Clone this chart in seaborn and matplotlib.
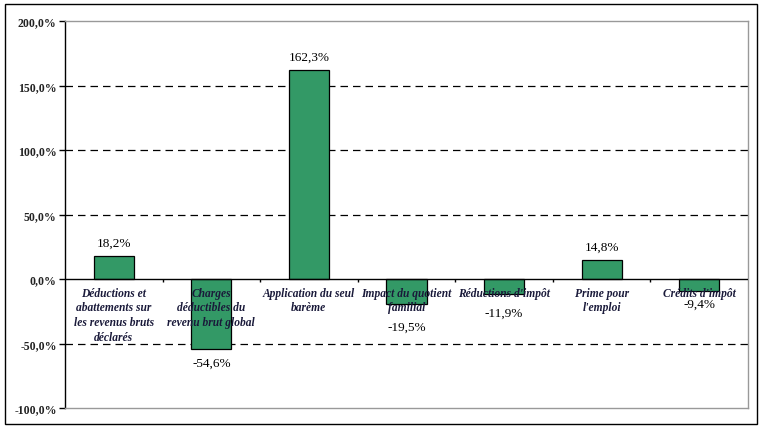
import numpy as np
import pandas as pd
import seaborn as sns
import matplotlib.pyplot as plt

categories = [
    "Déductions et\nabattements sur\nles revenus bruts\ndéclarés",
    "Charges\ndéductibles du\nrevenu brut global",
    "Application du seul\nbarème",
    "Impact du quotient\nfamilial",
    "Réductions d'impôt",
    "Prime pour\nl'emploi",
    "Crédits d'impôt",
]
values = [18.2, -54.6, 162.3, -19.5, -11.9, 14.8, -9.4]
yticks = [-100, -50, 0, 50, 100, 150, 200]

# label offsets (points) so the value labels clear the category text
label_pad = [5, -5, 5, -12, -9, 5, -5]

sns.set_theme(style="white")
plt.rcParams['font.family'] = ['Liberation Serif', 'DejaVu Serif']

df = pd.DataFrame({"cat": categories, "val": values})

fig = plt.figure(figsize=(7.63, 4.31), dpi=100)
ax = fig.add_axes([65 / 763, 1 - 409 / 431, (748 - 65) / 763, (409 - 22) / 431])

sns.barplot(data=df, x="cat", y="val", color="#339966", saturation=1,
            width=0.41, edgecolor="black", linewidth=0.9, ax=ax, zorder=3)

ax.set_ylim(-100, 200)
ax.set_xlim(-0.5, len(categories) - 0.5)
ax.set_yticks(yticks)
ax.set_yticklabels([f"{t:.1f}%".replace(".", ",") for t in yticks],
                   fontweight="bold", fontsize=8.5, color="#222222")
ax.tick_params(axis="y", direction="out", length=4, width=1, color="black", left=True, pad=2)
ax.set_xticks([])
ax.set_xlabel("")
ax.set_ylabel("")

# dashed gridlines
for t in yticks[1:-1]:
    if t != 0:
        ax.axhline(t, color="black", lw=0.9, ls=(0, (6, 4)), zorder=1)
ax.axhline(0, color="black", lw=1, zorder=4)

# category separators on zero line
bounds = np.arange(len(categories) + 1) - 0.5
ax.vlines(bounds[1:-1], -2.5, 0, color="black", lw=1, zorder=4)

for s in ["top", "right", "bottom"]:
    ax.spines[s].set_color("#999999")
    ax.spines[s].set_linewidth(1)
ax.spines["left"].set_color("black")
ax.spines["left"].set_linewidth(1)

# category labels under zero line
for i, lab in enumerate(categories):
    ax.text(i, -6, lab, ha="center", va="top", fontsize=8.3, style="italic",
            fontweight="bold", color="#1a1a3a", linespacing=1.3, zorder=5)

# value labels
for i, v in enumerate(values):
    txt = f"{v:.1f}%".replace(".", ",")
    ax.annotate(txt, (i, v), xytext=(0, label_pad[i]), textcoords="offset points",
                ha="center", va="bottom" if v >= 0 else "top",
                fontsize=9.5, color="black", zorder=6)

fig.add_artist(plt.Rectangle((5 / 763, 6 / 431), 752 / 763, 420 / 431,
                             transform=fig.transFigure, fill=False,
                             edgecolor="black", lw=1))

fig.savefig("out.png", dpi=100)
